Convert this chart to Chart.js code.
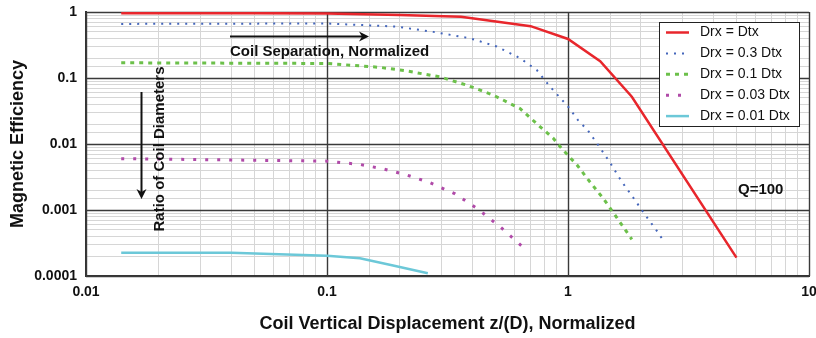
<!DOCTYPE html>
<html>
<head>
<meta charset="utf-8">
<script src="https://cdn.jsdelivr.net/npm/chart.js@4"></script>
<style>
  body { margin: 0; background: #fff; }
  canvas { display: block; }
</style>
</head>
<body>
<canvas id="effChart" width="816" height="338"></canvas>
<script>
// series names (legend)
const seriesNames = ["Drx = Dtx", "Drx = 0.3 Dtx", "Drx = 0.1 Dtx", "Drx = 0.03 Dtx", "Drx = 0.01 Dtx"];

// values (z/D, efficiency)
const redX = [0.014, 0.05, 0.1, 0.2, 0.36, 0.7, 1.0, 1.36, 1.84, 5.0];
const redY = [0.96, 0.96, 0.95, 0.9, 0.85, 0.61, 0.39, 0.18, 0.052, 0.00019];

const blueX = [0.014, 0.1, 0.195, 0.276, 0.392, 0.506, 0.632, 0.742, 0.842, 1.0, 1.1, 1.21, 1.32, 1.49, 1.67, 1.9, 2.05, 2.33, 2.52];
const blueY = [0.66, 0.67, 0.6, 0.5, 0.4, 0.3, 0.2, 0.132, 0.074, 0.037, 0.023, 0.016, 0.0102, 0.0053, 0.0027, 0.0014, 0.00093, 0.00049, 0.00032];

const greenX = [0.014, 0.1, 0.166, 0.214, 0.294, 0.38, 0.49, 0.632, 0.753, 0.869, 0.94, 1.09, 1.23, 1.4, 1.57, 1.84];
const greenY = [0.17, 0.166, 0.145, 0.128, 0.104, 0.078, 0.055, 0.0345, 0.0193, 0.0122, 0.0086, 0.0048, 0.0027, 0.0015, 0.00083, 0.00036];

const purpleX = [0.014, 0.1, 0.137, 0.171, 0.214, 0.267, 0.34, 0.425, 0.531, 0.673];
const purpleY = [0.006, 0.0055, 0.0049, 0.0042, 0.0034, 0.0026, 0.00176, 0.00102, 0.00053, 0.000245];

const cyanX = [0.014, 0.04, 0.1, 0.137, 0.188, 0.262];
const cyanY = [0.000226, 0.000226, 0.000203, 0.000186, 0.000144, 0.00011];

// tick labels (decades only)
const xTickValues = [0.01, 0.1, 1, 10];
const xTickLabels = ["0.01", "0.1", "1", "10"];
const yTickValues = [0.0001, 0.001, 0.01, 0.1, 1];
const yTickLabels = ["0.0001", "0.001", "0.01", "0.1", "1"];

const FONT = '"Liberation Sans", Arial, sans-serif';

function pts(xs, ys) {
    return xs.map((x, i) => ({ x: x, y: ys[i] }));
}

function isDecade(v) {
    const l = Math.log10(v);
    return Math.abs(l - Math.round(l)) < 1e-6;
}

function labelFor(v, values, labels) {
    const i = values.findIndex(t => Math.abs(t - v) / t < 1e-6);
    return i >= 0 ? labels[i] : "";
}

function gridColor(c) {
    return isDecade(c.tick.value) ? "#3a3a3a" : "#d6d6d6";
}

function arrow(ctx, x1, y1, x2, y2) {
    const a = Math.atan2(y2 - y1, x2 - x1);
    ctx.beginPath();
    ctx.moveTo(x1, y1);
    ctx.lineTo(x2 - 3 * Math.cos(a), y2 - 3 * Math.sin(a));
    ctx.stroke();
    ctx.beginPath();
    ctx.moveTo(x2, y2);
    ctx.lineTo(x2 - 10 * Math.cos(a) + 5 * Math.sin(a), y2 - 10 * Math.sin(a) - 5 * Math.cos(a));
    ctx.lineTo(x2 - 7 * Math.cos(a), y2 - 7 * Math.sin(a));
    ctx.lineTo(x2 - 10 * Math.cos(a) - 5 * Math.sin(a), y2 - 10 * Math.sin(a) + 5 * Math.cos(a));
    ctx.closePath();
    ctx.fill();
}

// decade lines on top of the minor grid, then annotations + legend box
const overlay = {
    id: "overlay",
    beforeDatasetsDraw(chart) {
        const ctx = chart.ctx;
        const area = chart.chartArea;
        const xs = chart.scales.x, ys = chart.scales.y;
        ctx.save();
        ctx.strokeStyle = "#3a3a3a";
        ctx.lineWidth = 1.4;
        ctx.beginPath();
        xTickValues.forEach(v => {
            const px = Math.round(xs.getPixelForValue(v)) + 0.5;
            ctx.moveTo(px, area.top);
            ctx.lineTo(px, area.bottom);
        });
        yTickValues.forEach(v => {
            const py = Math.round(ys.getPixelForValue(v)) + 0.5;
            ctx.moveTo(area.left, py);
            ctx.lineTo(area.right, py);
        });
        ctx.stroke();
        ctx.restore();
    },
    afterDatasetsDraw(chart) {
        const ctx = chart.ctx;
        ctx.save();
        ctx.strokeStyle = "#111";
        ctx.fillStyle = "#111";
        ctx.lineWidth = 2;
        arrow(ctx, 230, 36.5, 369, 36.5);
        arrow(ctx, 141.5, 92, 141.5, 199);

        ctx.font = "bold 15px " + FONT;
        ctx.textBaseline = "middle";
        ctx.textAlign = "left";
        ctx.fillText("Coil Separation, Normalized", 230, 52);
        ctx.fillText("Q=100", 738, 190);
        ctx.save();
        ctx.translate(160, 149);
        ctx.rotate(-Math.PI / 2);
        ctx.textAlign = "center";
        ctx.fillText("Ratio of Coil Diameters", 0, 0);
        ctx.restore();

        // legend
        ctx.fillStyle = "#fff";
        ctx.fillRect(659, 22, 140, 104);
        ctx.strokeStyle = "#222";
        ctx.lineWidth = 1;
        ctx.strokeRect(659.5, 22.5, 140, 104);
        ctx.font = "14px " + FONT;
        chart.data.datasets.forEach((ds, i) => {
            const y = 32.5 + i * 20.9;
            ctx.strokeStyle = ds.borderColor;
            ctx.lineWidth = ds.borderWidth;
            ctx.setLineDash(ds.borderDash || []);
            ctx.beginPath();
            ctx.moveTo(666, y);
            ctx.lineTo(689, y);
            ctx.stroke();
            ctx.setLineDash([]);
            ctx.fillStyle = "#111";
            ctx.fillText(seriesNames[i], 700, y);
        });
        ctx.restore();
    }
};

new Chart(document.getElementById("effChart"), {
    type: "line",
    data: {
        datasets: [
            { label: seriesNames[0], data: pts(redX, redY), borderColor: "#e8262c", borderWidth: 2.5 },
            { label: seriesNames[1], data: pts(blueX, blueY), borderColor: "#4466bb", borderWidth: 2, borderDash: [2, 6] },
            { label: seriesNames[2], data: pts(greenX, greenY), borderColor: "#6cc04a", borderWidth: 3, borderDash: [4, 5] },
            { label: seriesNames[3], data: pts(purpleX, purpleY), borderColor: "#b04aa8", borderWidth: 3, borderDash: [3, 9] },
            { label: seriesNames[4], data: pts(cyanX, cyanY), borderColor: "#6cc8d8", borderWidth: 2.5 }
        ]
    },
    options: {
        responsive: false,
        animation: false,
        layout: { padding: { left: 0, right: 7, top: 12, bottom: 0 } },
        elements: { point: { radius: 0 }, line: { tension: 0 } },
        plugins: { legend: { display: false }, tooltip: { enabled: false } },
        scales: {
            x: {
                type: "logarithmic",
                min: 0.01,
                max: 10,
                afterFit(scale) {
                    scale.height = 62;
                    scale.paddingLeft = 0;
                    scale.paddingRight = 0;
                },
                grid: { color: gridColor, lineWidth: 1, drawTicks: false },
                border: { color: "#333", width: 2 },
                ticks: {
                    autoSkip: false,
                    maxRotation: 0,
                    minRotation: 0,
                    padding: 8,
                    color: "#111",
                    font: { family: FONT, size: 14, weight: "bold" },
                    callback: v => labelFor(v, xTickValues, xTickLabels)
                },
                title: {
                    display: true,
                    text: "Coil Vertical Displacement z/(D), Normalized",
                    color: "#111",
                    font: { family: FONT, size: 18, weight: "bold" },
                    padding: { top: 0, bottom: 3 }
                }
            },
            y: {
                type: "logarithmic",
                min: 0.0001,
                max: 1,
                afterFit(scale) {
                    scale.width = 86;
                    scale.paddingTop = 0;
                    scale.paddingBottom = 0;
                },
                grid: { color: gridColor, lineWidth: 1, drawTicks: false },
                border: { color: "#333", width: 2 },
                ticks: {
                    autoSkip: false,
                    padding: 9,
                    color: "#111",
                    font: { family: FONT, size: 14, weight: "bold" },
                    callback: v => labelFor(v, yTickValues, yTickLabels)
                },
                title: {
                    display: true,
                    text: "Magnetic Efficiency",
                    color: "#111",
                    font: { family: FONT, size: 18, weight: "bold" },
                    padding: { top: 7, bottom: 0 }
                }
            }
        }
    },
    plugins: [overlay]
});
</script>
</body>
</html>
